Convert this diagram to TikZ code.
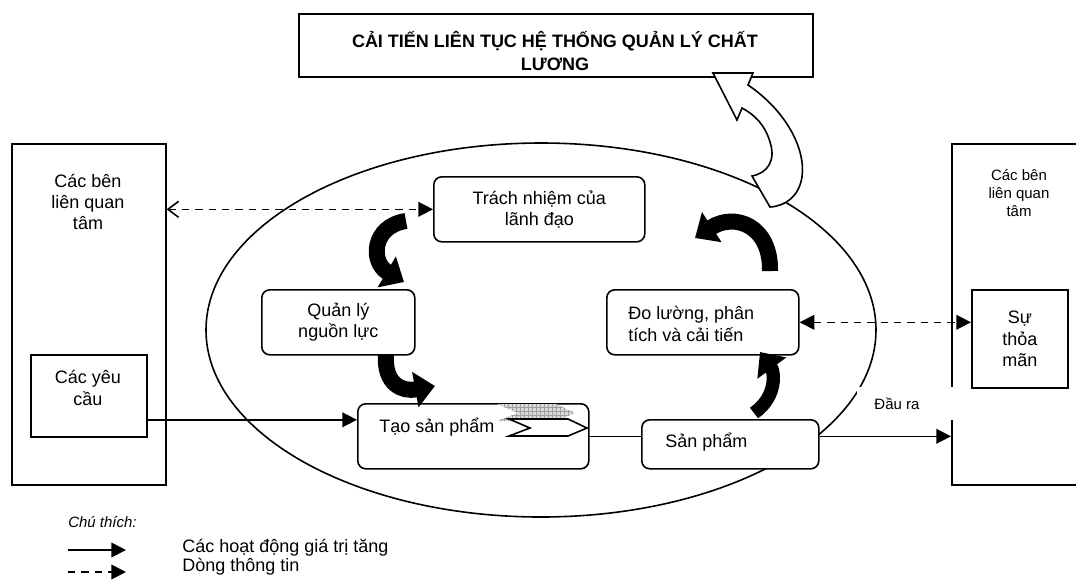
\documentclass[tikz,border=0pt]{standalone}
\usepackage{fontspec}
\setmainfont{Liberation Sans}
\usetikzlibrary{arrows.meta,patterns}
\newcommand\pxu{0.75pt}

\begin{document}
\begin{tikzpicture}[x=0.75pt,y=-0.75pt,
  every node/.style={inner sep=0pt, font=\fontsize{13.5}{16}\selectfont},
  small/.style={font=\fontsize{11.25}{13.5}\selectfont},
  frame/.style={draw, line width=1.2pt, fill=white, anchor=north west},
  stepbox/.style={frame, rounded corners=6pt},
  headtip/.tip={Triangle[length=11pt,width=11pt]},
  flow/.style={line width=1.2pt, -{headtip}},
  info/.style={line width=1.2pt, dash pattern=on 5.5pt off 4.5pt},
  turn/.style={line width=12pt, -{Triangle[length=15pt,width=26pt]}},
]
\clip (0,0) rectangle (1076,587);
\fill[white] (0,0) rectangle (1076,587);

% the quality management loop
\draw[line width=1.2pt] (541,330) ellipse [x radius=335, y radius=187];

% interested parties, left and right
\node[frame, minimum width={154*\pxu}, minimum height={341*\pxu}] (lbox) at (11,143) {};
\node[align=center] (lbox-t) at (88,202) {Các bên\\liên quan\\tâm};
\node[frame, minimum width={116*\pxu}, minimum height={82*\pxu}] (req) at (30,354) {};
\node[align=center] (req-t) at (88,388) {Các yêu\\cầu};

\node[frame, minimum width={140*\pxu}, minimum height={341*\pxu}] (rbox) at (951,143) {};
\node[small, align=center] (rbox-t) at (1019,193) {Các bên\\liên quan\\tâm};
\node[frame, minimum width={96*\pxu}, minimum height={98*\pxu}, align=center]
  (sat) at (971,289) {Sự\\thỏa\\mãn};

% process steps
\node[stepbox, minimum width={211*\pxu}, minimum height={65*\pxu}, align=center]
  (lead) at (433,176) {Trách nhiệm của\\lãnh đạo};
\node[stepbox, minimum width={153*\pxu}, minimum height={65*\pxu}, align=center]
  (res) at (261,289) {Quản lý\\nguồn lực};
\node[stepbox, minimum width={192*\pxu}, minimum height={65*\pxu}] (meas) at (606,289) {};
\node[align=left, anchor=west] (meas-t) at (628,324) {Đo lường, phân\\tích và cải tiến};
\node[stepbox, minimum width={231*\pxu}, minimum height={65*\pxu}] (real) at (357,403) {};
\node[anchor=west] (real-t) at (379,427) {Tạo sản phẩm};
\node[stepbox, minimum width={177*\pxu}, minimum height={49*\pxu}] (prod) at (641,419) {};
\node[anchor=west] (prod-t) at (665,442) {Sản phẩm};

% value-adding chevron inside product realization
\fill[gray!30] (497,404) -- (556,404) -- (575,413) -- (556,421) -- (497,421) -- (518,413) -- cycle;
\fill[pattern=grid, pattern color=gray!75] (497,404) -- (556,404) -- (575,413) -- (556,421) -- (497,421) -- (518,413) -- cycle;
\draw[line width=1.2pt, fill=white] (509,419) -- (568,419) -- (587,428) -- (568,436)
  -- (509,436) -- (530,428) -- cycle;

% value-adding flow
\draw[flow] ([yshift=-18pt]req.east) coordinate (rq) -- (rq -| real.west);
\draw[line width=1.2pt] (real.east) -- (real.east -| prod.west);
\draw[flow] (real.east -| prod.east) -- (real.east -| rbox.west);

% information flow
\draw[info, {Straight Barb[length=8pt,width=12pt]}-{headtip}] (lead.west -| lbox.east) -- (lead.west);
\draw[info, {headtip}-{headtip}] (meas.east) -- (meas.east -| sat.west);

% output label
\node[small, fill=white, minimum width={96*\pxu}, minimum height={33*\pxu}]
  (out) at (905,403.5) {Đầu ra\hspace*{12pt}};

% cycle arrows
\draw[turn] (406,221) .. controls (372,226) and (370,262) .. (404,282);
\draw[turn] (386,355) .. controls (384,384) and (402,392) .. (435,386);
\draw[turn] (770,271) .. controls (771,226) and (735,212) .. (695,238);
\draw[turn, line width=10pt] (754,413) .. controls (778,396) and (774,371) .. (760,352);

% continual improvement
\node[frame, minimum width={514*\pxu}, minimum height={63*\pxu}] (title) at (298,13) {};
\node[font=\bfseries\fontsize{13.5}{17}\selectfont, align=center] (title-t) at (555,51)
  {CẢI TIẾN LIÊN TỤC HỆ THỐNG QUẢN LÝ CHẤT\\LƯƠNG};
\draw[line width=1.2pt, fill=white, line join=miter]
  (713,73) -- (753,73) -- (748,85)
  .. controls (785,110) and (806,148) .. (802,177)
  .. controls (799,196) and (786,206) .. (770,207)
  -- (752,176)
  .. controls (768,173) and (776,160) .. (770,142)
  .. controls (765,125) and (755,115) .. (742,108)
  -- (737,120) -- cycle;

% legend
\node[small, anchor=west] (key) at (68,522) {\itshape Chú thích:};
\coordinate (k1a) at (68,550); \coordinate (k1b) at (126,550);
\coordinate (k2a) at (68,572); \coordinate (k2b) at (126,572);
\draw[flow] (k1a) -- (k1b);
\draw[info, -{headtip}] (k2a) -- (k2b);
\node[anchor=west] (k1t) at (182,548) {Các hoạt động giá trị tăng};
\node[anchor=west] (k2t) at (182,567) {Dòng thông tin};
\end{tikzpicture}
\end{document}
